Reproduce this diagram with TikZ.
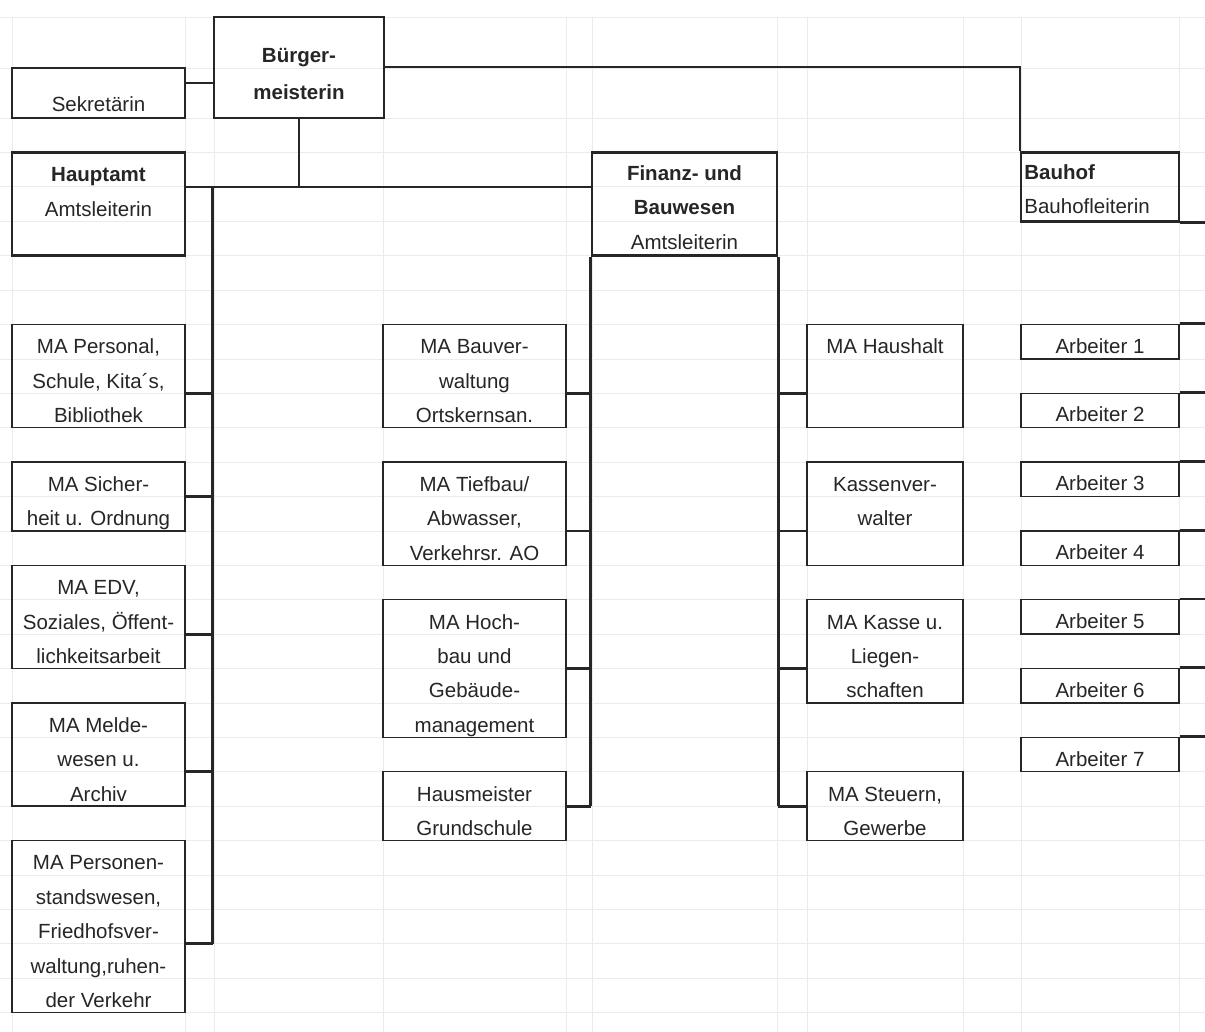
\documentclass[tikz,border=0pt]{standalone}
\usepackage{fontspec}
\setmainfont{Liberation Sans}
\usetikzlibrary{fit}
\definecolor{ink}{HTML}{262626}
\newcommand\mylines[1]{\begin{tabular}[t]{@{}c@{}}#1\end{tabular}}
\newcommand\mylinesl[1]{\begin{tabular}[t]{@{}l@{}}#1\end{tabular}}
\begin{document}
\begin{tikzpicture}[x=0.5pt,y=-0.5pt,
  box/.style={draw=ink, line width=0.7pt, inner sep=0pt},
  headbox/.style={draw=ink, line width=1.3pt, inner sep=0pt},
  txt/.style={anchor=base, inner sep=0pt, text=ink, font=\fontsize{10.25}{17.2}\selectfont},
  txtl/.style={txt, anchor=base west},
  conn/.style={draw=ink, line width=0.9pt},
  trunk/.style={draw=ink, line width=1.4pt},
  gridline/.style={draw=black!8, line width=0.4pt}]
\useasboundingbox (0,0) rectangle (1205,1032);
\fill[white] (0,0) rectangle (1205,1032);
% faint spreadsheet grid
\foreach \y in {17,68,118} \draw[gridline] (0,\y) -- (1205,\y);
\foreach \k in {0,...,25} \draw[gridline] (0,{152.5+34.4*\k}) -- (1205,{152.5+34.4*\k});
\foreach \x in {12,185,214,383,566,592,777,807,963,1021,1179} \draw[gridline] (\x,17) -- (\x,1032);

% top level
\node[headbox, fit={(214,17) (384,118)}] (bm) {};
\node[txt, font=\fontsize{10.25}{17.2}\selectfont\bfseries] (bmt) at (299,63) {\mylines{Bürger-\\[1.3pt]meisterin}};
\node[box, fit={(12,68) (185,118)}] (sek) {};
\node[txt] (sekt) at (98.5,112) {Sekretärin};
\node[headbox, fit={(12,152.5) (185,255.7)}] (ha) {};
\node[txt] (hat) at (98.5,181.9) {\mylines{\textbf{Hauptamt}\\Amtsleiterin}};
\node[headbox, fit={(592,152.5) (777,255.7)}] (fin) {};
\node[txt] (fint) at (684.5,180.5) {\mylines{\textbf{Finanz- und}\\\textbf{Bauwesen}\\Amtsleiterin}};
\node[headbox, fit={(1021,152.5) (1179,221.3)}] (bh) {};
\node[txtl] (bht) at (1024,179.5) {\mylinesl{\textbf{Bauhof}\\Bauhofleiterin}};

% left column
\node[box, fit={(12,324.5) (185,427.7)}] (l1) {};
\node[txt] at (98.5,353.9) {\mylines{MA Personal,\\Schule, Kita´s,\\Bibliothek}};
\node[box, fit={(12,462.1) (185,530.9)}] (l2) {};
\node[txt] at (98.5,491.5) {\mylines{MA Sicher-\\heit u. Ordnung}};
\node[box, fit={(12,565.3) (185,668.5)}] (l3) {};
\node[txt] at (98.5,594.7) {\mylines{MA EDV,\\Soziales, Öffent-\\lichkeitsarbeit}};
\node[box, fit={(12,702.9) (185,806.1)}] (l4) {};
\node[txt] at (98.5,732.3) {\mylines{MA Melde-\\wesen u.\\Archiv}};
\node[box, fit={(12,840.5) (185,1012.5)}] (l5) {};
\node[txt] at (98.5,869.9) {\mylines{MA Personen-\\standswesen,\\Friedhofsver-\\waltung,ruhen-\\der Verkehr}};

% middle column
\node[box, fit={(383,324.5) (566,427.7)}] (m1) {};
\node[txt] at (474.5,353.9) {\mylines{MA Bauver-\\waltung\\Ortskernsan.}};
\node[box, fit={(383,462.1) (566,565.3)}] (m2) {};
\node[txt] at (474.5,491.5) {\mylines{MA Tiefbau/\\Abwasser,\\Verkehrsr. AO}};
\node[box, fit={(383,599.7) (566,737.3)}] (m3) {};
\node[txt] at (474.5,629.1) {\mylines{MA Hoch-\\bau und\\Gebäude-\\management}};
\node[box, fit={(383,771.7) (566,840.5)}] (m4) {};
\node[txt] at (474.5,801.1) {\mylines{Hausmeister\\Grundschule}};

% right column
\node[box, fit={(807,324.5) (963,427.7)}] (r1) {};
\node[txt] at (885,353.9) {MA Haushalt};
\node[box, fit={(807,462.1) (963,565.3)}] (r2) {};
\node[txt] at (885,491.5) {\mylines{Kassenver-\\walter}};
\node[box, fit={(807,599.7) (963,702.9)}] (r3) {};
\node[txt] at (885,629.1) {\mylines{MA Kasse u.\\Liegen-\\schaften}};
\node[box, fit={(807,771.7) (963,840.5)}] (r4) {};
\node[txt] at (885,801.1) {\mylines{MA Steuern,\\Gewerbe}};

% Arbeiter
\foreach \i in {1,...,7} {
  \node[box, fit={(1021,{324.5+68.8*(\i-1)}) (1179,{358.9+68.8*(\i-1)})}] (a\i) {};
  \node[txt] (a\i t) at (1100,{353.2+68.8*(\i-1)}) {Arbeiter \i};
  \draw[trunk] (a\i.north east) -- (a\i.north east -| 1205,0);
}

% connectors
\draw[conn] (sek.east |- 0,83) -- (bm.west |- 0,83);
\draw[conn] (bm.east |- 0,67) -| (bh.north west);
\draw[trunk] (bh.south east) -- (bh.south east -| 1205,0);
\coordinate (hj) at (bm.south |- 0,186.9);
\draw[conn] (bm.south) -- (hj);
\draw[conn] (ha.east |- hj) -- (fin.west |- hj);
\coordinate (ltop) at (bm.west |- hj);
\draw[trunk] (ltop) -- (ltop |- 0,943.7);
\foreach \n/\y in {l1/393.3,l2/496.5,l3/634.1,l4/771.7,l5/943.7}
  \draw[trunk] (\n.east |- 0,\y) -- (ltop |- 0,\y);
\draw[trunk] (fin.south west) -- (fin.south west |- 0,806.1);
\foreach \n/\y in {m1/393.3,m2/530.9,m3/668.5,m4/806.1}
  \draw[trunk] (\n.east |- 0,\y) -- (fin.south west |- 0,\y);
\draw[trunk] (fin.south east) -- (fin.south east |- 0,806.1);
\foreach \n/\y in {r1/393.3,r2/530.9,r3/668.5,r4/806.1}
  \draw[trunk] (\n.west |- 0,\y) -- (fin.south east |- 0,\y);
\end{tikzpicture}
\end{document}
